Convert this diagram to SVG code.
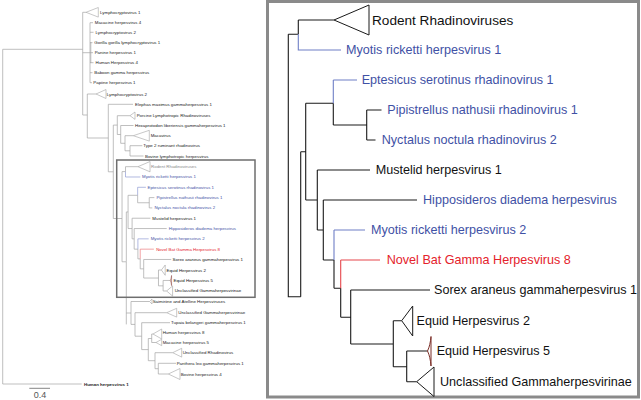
<svg xmlns="http://www.w3.org/2000/svg" width="641" height="400" viewBox="0 0 641 400">
<style>
text{font-family:"Liberation Sans",Arial,sans-serif}
.t{font-size:12.6px;fill:#111}
.tr{font-size:13.6px;fill:#111}
.blue{fill:#3f51a5}
.red{fill:#e4222b}
.gr{fill:#8a8a8a}
.s{font-size:4.4px;fill:#1a1a1a}
.br{stroke:#1a1a1a;stroke-width:1.1;fill:none}
.bb{stroke:#6f7fc6;stroke-width:1.1;fill:none}
.bd{stroke:#e6474c;stroke-width:1.1;fill:none}
.tri{fill:#fff;stroke:#1a1a1a;stroke-width:1}
.e5{fill:none;stroke:#7b2d26;stroke-width:1}
.lb{stroke:#a3a3a3;stroke-width:0.7;fill:none}
.ltri{fill:#fff;stroke:#a3a3a3;stroke-width:0.6}
.kb{stroke:#a3a3a3;stroke-width:2;fill:none}
.kbb{stroke:#8f9bd4;stroke-width:2;fill:none}
.kbd{stroke:#ec7a7d;stroke-width:2;fill:none}
.ktri{fill:#fff;stroke:#a3a3a3;stroke-width:1.8}
.ke5{fill:none;stroke:#9b5a55;stroke-width:1.8}
</style>

<!-- ============ LEFT PANEL: full tree ============ -->
<g id="left-connectors">
<path class="lb" d="M2.7 49.3V384M2.7 49.3H82.7M2.7 384H81.7M82.7 12.3V115M82.7 12.3H86M82.7 52.7H90M90 22.7V82.7M90 22.7H93M90 32.3H93.5M90 42.7H92.5M90 52.7H93M90 62.7H93.5M90 72.7H92.5M90 82.7H92M82.7 115H87.3M87.3 94V138M87.3 94H96M87.3 138H108.3M108.3 104.3V171.8M108.3 104.3H133M108.3 171.8H113.3M113.3 125.1V218.5M113.3 125.1H117.3M117.3 115.7V134.5M117.3 115.7H130M117.3 134.5H120.7M120.7 125.5V143.3M120.7 125.5H133.5M120.7 143.3H125M125 135.7V150.8M125 135.7H133.3M125 150.8H130M130 145.7V156M130 145.7H142.3M130 156H143.5M113.3 218.5H122M126.3 262V324.4M131 301.5V324.4M126.3 313H131M131 301.5H149.5M131 324.4H135M135 312.7V336.2M135 312.7H166.7M135 336.2H141.7M141.7 322.7V349.6M141.7 322.7H170M141.7 349.6H148.3M148.3 338.5V360.7M148.3 338.5H151.7M151.7 334V342.5M151.7 334H153M151.7 342.5H156M148.3 360.7H155M155 352.7V368.7M155 352.7H172.7M155 368.7H158.3M158.3 363.3V374M158.3 363.3H176M158.3 374H168.3"/>
<path class="lb" stroke="#888" d="M90.8 42V63"/>
</g>

<g id="l-lcv1"><polygon class="ltri" points="86,12.3 98.3,7.5 98.3,17.1"/><text class="s" x="100" y="13.9">Lymphocryptovirus 1</text></g>
<g id="l-mac4"><text class="s" x="94.8" y="24.3">Macacine herpesvirus 4</text></g>
<g id="l-lcv2a"><text class="s" x="95.5" y="33.9">Lymphocryptovirus 2</text></g>
<g id="l-gorilla"><text class="s" x="94.3" y="44.3">Gorilla gorilla lymphocryptovirus 1</text></g>
<g id="l-panine"><text class="s" x="94.7" y="54.3">Panine herpesvirus 1</text></g>
<g id="l-hhv4"><text class="s" x="95.5" y="64.3">Human Herpesvirus 4</text></g>
<g id="l-baboon"><text class="s" x="94.3" y="74.3">Baboon gamma herpesvirus</text></g>
<g id="l-papiine"><text class="s" x="93.3" y="84.3">Papiine herpesvirus 1</text></g>
<g id="l-lcv2b"><polygon class="ltri" points="96,94 106,89.5 106,98.5"/><text class="s" x="106.7" y="95.6">Lymphocryptovirus 2</text></g>
<g id="l-elephas"><text class="s" x="135" y="105.9">Elephas maximus gammaherpesvirus 1</text></g>
<g id="l-porcine"><polygon class="ltri" points="130,115.7 135,112 135,119.4"/><text class="s gr" x="136.7" y="117.3">Porcine Lymphotropic Rhadinoviruses</text></g>
<g id="l-hexaprotodon"><text class="s" x="135" y="127.1">Hexaprotodon liberiensis gammaherpesvirus 1</text></g>
<g id="l-macavirus"><polygon class="ltri" points="133.3,135.7 149.3,130.3 149.3,141.1"/><text class="s" x="150.7" y="137.3">Macavirus</text></g>
<g id="l-type2"><text class="s" x="143.3" y="147.3">Type 2 ruminant rhadinovirus</text></g>
<g id="l-bovlympho"><text class="s" x="145" y="157.6">Bovine lymphotropic herpesvirus</text></g>

<!-- boxed clade, same layout as right panel, scaled -->
<g id="left-box-clade" transform="translate(22,159.8) scale(0.347,0.3437)">
<g id="lk-connectors">
<path class="kb" d="M288.3 34.3V296.7H300.7M288.3 34.3H298.3M298.3 20V34.3M298.3 20H334M300.7 151.7V296.7M300.7 151.7H305.7M305.7 103.3V200M305.7 103.3H333.3M333.3 103.3V125M333.3 125H366.7M366.7 110V140M366.7 110H381.5M366.7 140H375.5M305.7 200H317.3M317.3 170V230M317.3 170H370M317.3 230H323.3M323.3 200V260M323.3 200H417M323.3 260H334M334 260V288.3M334 288.3H340.7M340.7 288.3V317.3M340.7 317.3H350.7M350.7 290V344M350.7 290H430M350.7 344H393.3M393.3 320.7V366.7M393.3 320.7H401.7M393.3 366.7H406.7M406.7 351V381.7M406.7 351H427.5M406.7 381.7H416.7"/>
<path class="kbb" d="M298.3 34.3V50H341M333.3 80V103.3M333.3 80H357M334 230V260M334 230H365"/>
<path class="kbd" d="M340.7 260V288.3M340.7 260H380"/>
</g>
<polygon class="ktri" points="334,20 369,5 369,35"/>
<polygon class="ktri" points="401.7,320.7 412.7,306 412.7,336"/>
<path class="ke5" d="M427.5 351C429.5 347 430.5 342 431 336.5V366C430.5 360 429.5 355 427.5 351Z"/>
<polygon class="ktri" points="416.7,381.7 434,367 434,396.5"/>
<text class="t gr" x="372" y="24.5">Rodent Rhadinoviruses</text>
<text class="t blue" x="346" y="54.4">Myotis ricketti herpesvirus 1</text>
<text class="t blue" x="361.7" y="84.4">Eptesicus serotinus rhadinovirus 1</text>
<text class="t blue" x="387.3" y="114.4">Pipistrellus nathusii rhadinovirus 1</text>
<text class="t blue" x="381.7" y="144.4">Nyctalus noctula rhadinovirus 2</text>
<text class="t" x="375.7" y="174.4">Mustelid herpesvirus 1</text>
<text class="t blue" x="423" y="204.4">Hipposideros diadema herpesvirus</text>
<text class="t blue" x="371" y="234.4">Myotis ricketti herpesvirus 2</text>
<text class="t red" x="386.7" y="264.4">Novel Bat Gamma Herpesvirus 8</text>
<text class="t" x="434" y="294.4">Sorex araneus gammaherpesvirus 1</text>
<text class="t" x="416.5" y="325.1">Equid Herpesvirus 2</text>
<text class="t" x="436.7" y="355.4">Equid Herpesvirus 5</text>
<text class="t" x="440" y="386.1">Unclassified Gammaherpesvirinae</text>
</g>
<rect id="left-box" x="116.7" y="160" width="138.3" height="137.3" fill="none" stroke="#6e6e6e" stroke-width="1.5"/>

<g id="l-saimiriine"><polygon class="ltri" points="149.5,301.5 152,299 152,304"/><text class="s gr" x="152.7" y="303">Saimiriine and Atelline Herpesviruses</text></g>
<g id="l-ug2"><polygon class="ltri" points="166.7,312.7 176.7,308.3 176.7,317.1"/><text class="s" x="178.3" y="314.3">Unclassified Gammaherpesvirinae</text></g>
<g id="l-tupaia"><text class="s" x="171" y="324.3">Tupaia belangeri gammaherpesvirus 1</text></g>
<g id="l-hhv8"><polygon class="ltri" points="153,334 161.7,329 161.7,339"/><text class="s" x="162.7" y="334.3">Human herpesvirus 8</text></g>
<g id="l-mac5"><polygon class="ltri" points="156,342.5 161.7,339.3 161.7,345.7"/><text class="s" x="162.7" y="344.3">Macacine herpesvirus 5</text></g>
<g id="l-ur"><polygon class="ltri" points="172.7,352.7 181.7,348.3 181.7,357.1"/><text class="s" x="182.7" y="354.3">Unclassified Rhadinovirus</text></g>
<g id="l-panthera"><text class="s" x="176.7" y="364.9">Panthera leo gammaherpesvirus 1</text></g>
<g id="l-bhv4"><polygon class="ltri" points="168.3,374 180,368.5 180,379.5"/><text class="s" x="180.7" y="375.6">Bovine herpesvirus 4</text></g>
<g id="l-hhv1"><text class="s" x="84" y="385.6" font-weight="bold">Human herpesvirus 1</text></g>
<g id="scale-bar"><path d="M29.3 388.3H50" stroke="#666" stroke-width="0.8"/><text x="40" y="397.5" font-size="9" fill="#555" text-anchor="middle">0.4</text></g>

<!-- ============ RIGHT PANEL: enlarged clade ============ -->
<rect id="right-frame" x="267.5" y="1.5" width="371" height="395.5" fill="#fff" stroke="#8a8a8a" stroke-width="3"/>
<g id="right-connectors">
<path class="br" d="M288.3 34.3V296.7H300.7M288.3 34.3H298.3M298.3 20V34.3M298.3 20H334M300.7 151.7V296.7M300.7 151.7H305.7M305.7 103.3V200M305.7 103.3H333.3M333.3 103.3V125M333.3 125H366.7M366.7 110V140M366.7 110H381.5M366.7 140H375.5M305.7 200H317.3M317.3 170V230M317.3 170H370M317.3 230H323.3M323.3 200V260M323.3 200H417M323.3 260H334M334 260V288.3M334 288.3H340.7M340.7 288.3V317.3M340.7 317.3H350.7M350.7 290V344M350.7 290H430M350.7 344H393.3M393.3 320.7V366.7M393.3 320.7H401.7M393.3 366.7H406.7M406.7 351V381.7M406.7 351H427.5M406.7 381.7H416.7"/>
<path class="bb" d="M298.3 34.3V50H341M333.3 80V103.3M333.3 80H357M334 230V260M334 230H365"/>
<path class="bd" d="M340.7 260V288.3M340.7 260H380"/>
</g>
<g id="r-rodent"><polygon class="tri" points="334,20 369,5 369,35"/><text class="tr" x="372" y="24.8">Rodent Rhadinoviruses</text></g>
<g id="r-myotis1"><text class="t blue" x="346" y="54.4">Myotis ricketti herpesvirus 1</text></g>
<g id="r-eptesicus"><text class="t blue" x="361.7" y="84.4">Eptesicus serotinus rhadinovirus 1</text></g>
<g id="r-pipistrellus"><text class="t blue" x="387.3" y="114.4">Pipistrellus nathusii rhadinovirus 1</text></g>
<g id="r-nyctalus"><text class="t blue" x="381.7" y="144.4">Nyctalus noctula rhadinovirus 2</text></g>
<g id="r-mustelid"><text class="t" x="375.7" y="174.4">Mustelid herpesvirus 1</text></g>
<g id="r-hipposideros"><text class="t blue" x="423" y="204.4">Hipposideros diadema herpesvirus</text></g>
<g id="r-myotis2"><text class="t blue" x="371" y="234.4">Myotis ricketti herpesvirus 2</text></g>
<g id="r-novel"><text class="t red" x="386.7" y="264.4">Novel Bat Gamma Herpesvirus 8</text></g>
<g id="r-sorex"><text class="t" x="434" y="294.4">Sorex araneus gammaherpesvirus 1</text></g>
<g id="r-equid2"><polygon class="tri" points="401.7,320.7 412.7,306 412.7,336"/><text class="t" x="416.5" y="325.1">Equid Herpesvirus 2</text></g>
<g id="r-equid5"><path class="e5" d="M427.5 351C429.5 347 430.5 342 431 336.5V366C430.5 360 429.5 355 427.5 351Z"/><text class="t" x="436.7" y="355.4">Equid Herpesvirus 5</text></g>
<g id="r-unclassified"><polygon class="tri" points="416.7,381.7 434,367 434,396.5"/><text class="t" x="440" y="386.1">Unclassified Gammaherpesvirinae</text></g>
</svg>
